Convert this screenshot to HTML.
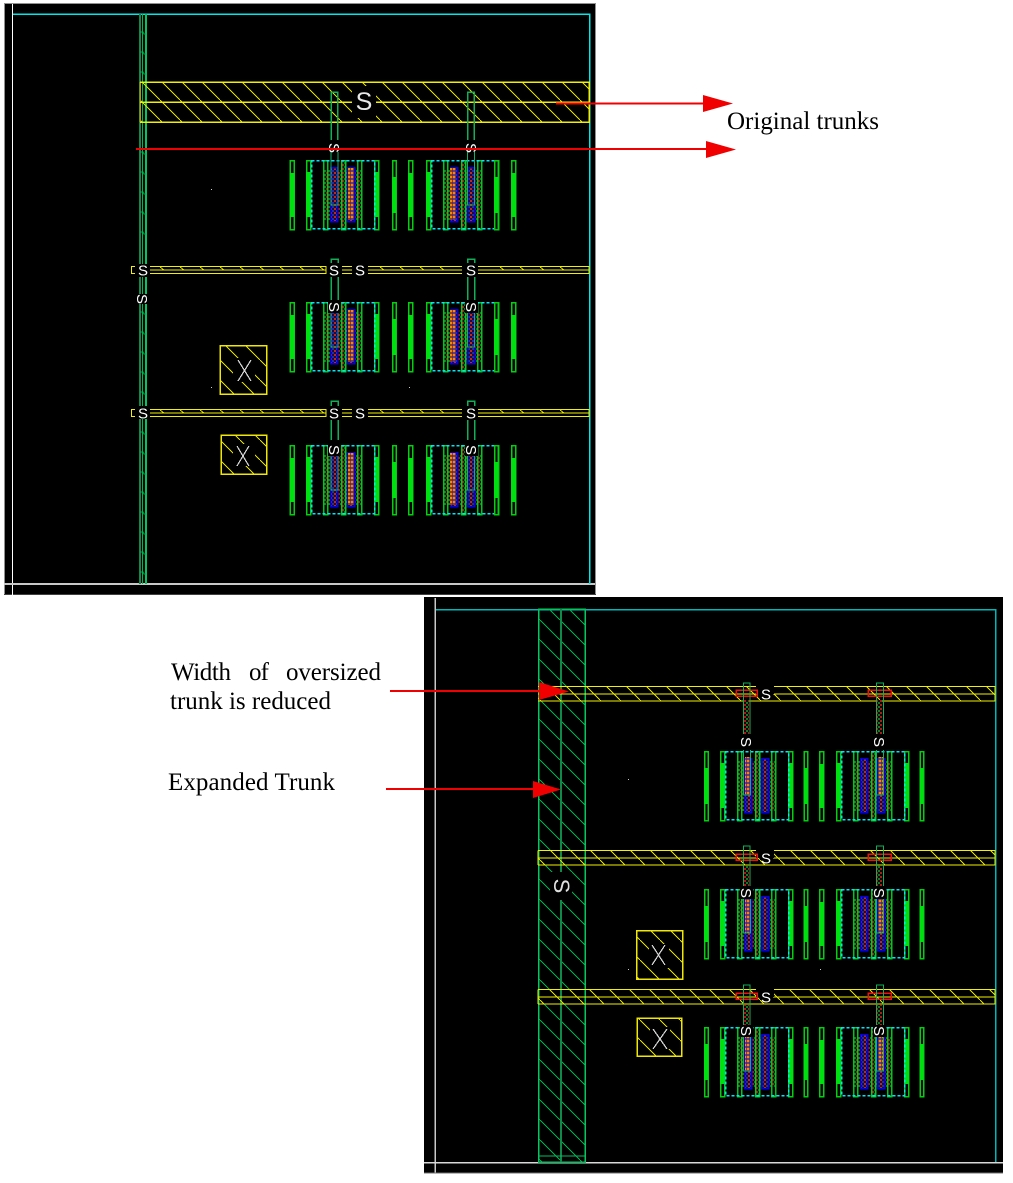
<!DOCTYPE html>
<html><head><meta charset="utf-8"><style>
html,body{margin:0;padding:0;background:#fff}
svg{display:block}
text{font-family:"Liberation Sans",sans-serif}
.t{font-family:"Liberation Serif",serif;font-size:25px;fill:#000}
.s{fill:#fff;font-size:15px;text-anchor:middle}
</style></head><body>
<svg width="1013" height="1183" viewBox="0 0 1013 1183" xmlns="http://www.w3.org/2000/svg" shape-rendering="crispEdges">
<defs>
<pattern id="hy" width="20" height="20" patternUnits="userSpaceOnUse"><path d="M-2 -2L22 22" stroke="#e0e000" stroke-width="1.200"/></pattern>
<pattern id="hx" width="20" height="20" patternUnits="userSpaceOnUse"><path d="M-2 -2L22 22" stroke="#e0e000" stroke-width="1.200"/></pattern>
<pattern id="hg" width="20" height="20" patternUnits="userSpaceOnUse"><path d="M-2 -2L22 22" stroke="#00b050" stroke-width="1.200"/></pattern>
<pattern id="dots" width="4" height="4" patternUnits="userSpaceOnUse"><rect width="4" height="4" fill="#100804"/><rect width="2" height="2" fill="#b01818"/><rect x="2" y="2" width="2" height="2" fill="#147a28"/></pattern>
<pattern id="dots2" width="4" height="4" patternUnits="userSpaceOnUse"><rect width="4" height="4" fill="#200838"/><rect width="2" height="2" fill="#c02818"/><rect x="2" y="2" width="2" height="2" fill="#1830a8"/></pattern>
<pattern id="or" width="3" height="4" patternUnits="userSpaceOnUse"><rect width="3" height="4" fill="#a03818"/><rect width="2" height="2" fill="#f08818"/><rect x="2" y="2" width="1" height="2" fill="#1838d0"/></pattern>
<g id="bar">
<rect x=".5" y=".5" width="4" height="69" fill="#000" stroke="#00d010" stroke-width="1.500"/>
<rect x="0" y="13" width="5" height="44" fill="#00e010"/>
</g>
<g id="nbar">
<rect x=".5" y=".5" width="3.500" height="69" fill="#000" stroke="#00d010" stroke-width="1.500"/>
<rect x="0" y="17" width="4" height="36" fill="#00e010"/>
</g>
<g id="cell">
<rect x=".5" y=".5" width="4" height="69" fill="#000" stroke="#00d010" stroke-width="1.500"/>
<rect x="0" y="12" width="5" height="45" fill="#00e010"/>
<rect x="68.500" y=".5" width="4" height="69" fill="#000" stroke="#00d010" stroke-width="1.500"/>
<rect x="68" y="12" width="5" height="45" fill="#00e010"/>
<rect x="18" y="10" width="38" height="50" fill="url(#dots)"/>
<rect x="24.500" y="7.500" width="7" height="54" fill="url(#dots2)" stroke="#0000f0" stroke-width="1.500"/>
<rect x="41.500" y="7.500" width="7" height="54" fill="url(#dots2)" stroke="#0000f0" stroke-width="1.500"/>
<rect x="17.500" y=".5" width="4" height="69" fill="none" stroke="#00c818" stroke-width="1.500"/>
<rect x="35.500" y=".5" width="4" height="69" fill="url(#dots)" stroke="#00d018" stroke-width="1.500"/>
<rect x="51.500" y=".5" width="4" height="69" fill="none" stroke="#00c818" stroke-width="1.500"/>
<rect x="5.500" y=".5" width="63" height="68" fill="none" stroke="#00e8f8" stroke-width="1.500" stroke-dasharray="3 2"/>
</g>
</defs>

<!-- TOP PANEL -->
<rect x="4" y="3" width="592" height="592" fill="#000"/>
<path d="M4.500 595V3.500H595.500V595" fill="none" stroke="#909090"/>
<path d="M4 594.500H596" stroke="#404040"/>
<path d="M12.500 4V595" stroke="#fff"/>
<path d="M4 584H595" stroke="#c8c8c8" stroke-width="2"/>
<path d="M13 14H589.500V584" fill="none" stroke="#00e8e8" stroke-width="1.500"/>

<!-- left vertical trunk -->
<path d="M140 14V584" stroke="#108a48" stroke-width="2"/>
<path d="M142.500 14V584" stroke="#00b850" stroke-width="1"/>
<path d="M146 14V584" stroke="#00c860" stroke-width="1.600"/>
<path d="M140 32h3l1 2h2M140 52h3l1 2h2M140 72h3l1 2h2M140 152h3l1 2h2M140 172h3l1 2h2M140 192h3l1 2h2M140 212h3l1 2h2M140 232h3l1 2h2M140 312h3l1 2h2M140 332h3l1 2h2M140 352h3l1 2h2M140 372h3l1 2h2M140 392h3l1 2h2M140 432h3l1 2h2M140 452h3l1 2h2M140 472h3l1 2h2M140 492h3l1 2h2M140 512h3l1 2h2M140 532h3l1 2h2M140 552h3l1 2h2M140 572h3l1 2h2" fill="none" stroke="#00b050"/>

<!-- wide yellow trunk -->
<rect x="140" y="82" width="449" height="40" fill="url(#hy)"/>
<path d="M140 82V122" stroke="#a8a000" stroke-width="1.500"/>
<path d="M140 82H589V122H140M140 102H352M375 102H589" fill="none" stroke="#f0f000" stroke-width="1.500"/>
<rect x="352" y="86" width="24" height="32" fill="#000"/>
<text x="364" y="110" style="font-size:25px;text-anchor:middle;fill:#e8e8e8">S</text>
<!-- stubs top row -->
<path d="M331 140V92H337.500V140M467.500 140V92H474V140" fill="none" stroke="#10b058" stroke-width="1.500"/>
<text class="s" transform="translate(329 148) rotate(90)">S</text><text class="s" transform="translate(466 148) rotate(90)">S</text>

<!-- thin yellow trunks -->
<g fill="none" stroke="#f0f000" stroke-width="1.300">
<path d="M135 266.500H131.500V273.500H135"/>
<path d="M150 266.500H326V273.500H150M150 270H326M342 266.500H352M342 273.500H352M342 270H352M368 266.500H462M368 273.500H462M368 270H462M478 266.500H589V273.500H478M478 270H589"/>
<path d="M135 409.500H131.500V416.500H135"/>
<path d="M150 409.500H326V416.500H150M150 413H326M342 409.500H352M342 416.500H352M342 413H352M368 409.500H462M368 416.500H462M368 413H462M478 409.500H589V416.500H478M478 413H589"/>
</g>
<path d="M160 267l4 3M180 267l4 3M200 267l4 3M220 267l4 3M240 267l4 3M260 267l4 3M280 267l4 3M300 267l4 3M320 267l4 3M380 267l4 3M400 267l4 3M420 267l4 3M440 267l4 3M500 267l4 3M520 267l4 3M540 267l4 3M560 267l4 3M160 410l4 3M180 410l4 3M200 410l4 3M220 410l4 3M240 410l4 3M260 410l4 3M280 410l4 3M300 410l4 3M320 410l4 3M380 410l4 3M400 410l4 3M420 410l4 3M440 410l4 3M500 410l4 3M520 410l4 3M540 410l4 3M560 410l4 3" stroke="#d8d800"/>

<!-- cells top -->
<g>
<use href="#bar" x="289.500" y="160"/><use href="#cell" x="306" y="160"/><use href="#nbar" x="392" y="160"/><use href="#bar" x="408" y="160"/><use href="#cell" x="426" y="160"/><use href="#nbar" x="494" y="160"/><use href="#bar" x="511" y="160"/>
<rect x="348" y="168" width="6" height="52" fill="url(#or)"/>
<rect x="450" y="168" width="6" height="52" fill="url(#or)"/>
<path d="M331 152V205H338V152M467.500 152V205H474.500V152" fill="none" stroke="#10b068" stroke-width="1.300"/>
</g>
<g transform="translate(0 142)">
<use href="#bar" x="289.500" y="160"/><use href="#cell" x="306" y="160"/><use href="#nbar" x="392" y="160"/><use href="#bar" x="408" y="160"/><use href="#cell" x="426" y="160"/><use href="#nbar" x="494" y="160"/><use href="#bar" x="511" y="160"/>
<rect x="348" y="168" width="6" height="52" fill="url(#or)"/>
<rect x="450" y="168" width="6" height="52" fill="url(#or)"/>
<path d="M331 160V205H338V160M467.500 160V205H474.500V160" fill="none" stroke="#10b068" stroke-width="1.300"/>
</g>
<g transform="translate(0 285)">
<use href="#bar" x="289.500" y="160"/><use href="#cell" x="306" y="160"/><use href="#nbar" x="392" y="160"/><use href="#bar" x="408" y="160"/><use href="#cell" x="426" y="160"/><use href="#nbar" x="494" y="160"/><use href="#bar" x="511" y="160"/>
<rect x="348" y="168" width="6" height="52" fill="url(#or)"/>
<rect x="450" y="168" width="6" height="52" fill="url(#or)"/>
<path d="M331 160V205H338V160M467.500 160V205H474.500V160" fill="none" stroke="#10b068" stroke-width="1.300"/>
</g>
<!-- stubs and S top mid/bottom -->
<g fill="none" stroke="#10b058" stroke-width="1.500">
<path d="M331 300V259H338V300M467.500 300V259H474.500V300M331 440V401H338V440M467.500 440V401H474.500V440"/>
</g>
<g fill="#000">
<rect x="137" y="264" width="12" height="13"/><rect x="328" y="263" width="13" height="14"/><rect x="353" y="263" width="14" height="14"/><rect x="464" y="263" width="13" height="14"/>
<rect x="137" y="406" width="12" height="13"/><rect x="328" y="406" width="13" height="14"/><rect x="353" y="406" width="14" height="14"/><rect x="464" y="406" width="13" height="14"/>
<rect x="136" y="294" width="13" height="10"/>
<rect x="328" y="302" width="13" height="11"/><rect x="465" y="302" width="13" height="11"/><rect x="328" y="445" width="13" height="11"/><rect x="465" y="445" width="13" height="11"/>
</g>
<g>
<text class="s" x="143" y="275.500">S</text><text class="s" x="334" y="275.500">S</text><text class="s" x="360" y="275.500">S</text><text class="s" x="471" y="275.500">S</text>
<text class="s" x="143" y="418.500">S</text><text class="s" x="334" y="418.500">S</text><text class="s" x="360" y="418.500">S</text><text class="s" x="471" y="418.500">S</text>
<text class="s" transform="translate(137 299) rotate(90)">S</text>
<text class="s" transform="translate(329 307) rotate(90)">S</text><text class="s" transform="translate(466 307) rotate(90)">S</text><text class="s" transform="translate(329 450) rotate(90)">S</text><text class="s" transform="translate(466 450) rotate(90)">S</text>
</g>

<!-- X boxes top -->
<rect x="220" y="345.500" width="46.500" height="48.500" fill="url(#hx)" stroke="#f0e800" stroke-width="1.500"/>
<rect x="221" y="435" width="45.500" height="39" fill="url(#hx)" stroke="#f0e800" stroke-width="1.500"/>
<rect x="233" y="358" width="22" height="24" fill="#000"/><rect x="233" y="444" width="22" height="22" fill="#000"/>
<path d="M238 360L251 381M251 360L238 381M237 446L249 466M249 446L237 466" stroke="#d8d8d8" stroke-width="1.200"/>
<rect x="211" y="189" width="1" height="1" fill="#ccc"/><rect x="211" y="387" width="1" height="1" fill="#ccc"/><rect x="409" y="387" width="1" height="1" fill="#ccc"/>

<!-- BOTTOM PANEL -->
<rect x="424" y="597" width="579" height="576" fill="#000"/>
<path d="M435 598V1173" stroke="#c8c8c8" stroke-width="1.500"/>
<path d="M424 1162.500H1003" stroke="#d8d8d8" stroke-width="1.500"/>
<path d="M424 1173H1003" stroke="#707070"/>
<path d="M436 609.500H995.500V1162" fill="none" stroke="#00b8b8" stroke-width="1.500"/>

<!-- wide green trunk -->
<rect x="538" y="609" width="47" height="553" fill="url(#hg)"/>
<rect x="538.500" y="609" width="46.500" height="553" fill="none" stroke="#00c860" stroke-width="1.500"/>
<path d="M561 609V1162" stroke="#108a48" stroke-width="2"/>
<path d="M538 1156H585" stroke="#00c060" stroke-width="1.200"/>
<rect x="550" y="872" width="22" height="28" fill="#000"/>
<text transform="translate(554 886) rotate(90)" style="font-size:22px;fill:#e0e0e0;text-anchor:middle">S</text>

<!-- yellow trunks bottom -->
<g fill="url(#hy)"><rect x="538" y="686" width="457" height="15"/><rect x="538" y="850" width="457" height="15"/><rect x="538" y="989" width="457" height="15"/></g>
<g fill="none" stroke="#f0f000" stroke-width="1.400">
<path d="M538 686.500H757M538 694H757M538 701H995V686.500H773M995 694H773"/>
<path d="M538 850.500H757M538 858H757M538 865H995V850.500H773M995 858H773M538 850.500V865"/>
<path d="M538 989.500H757M538 997H757M538 1004H995V989.500H773M995 997H773M538 989.500V1004"/>
</g>
<g fill="#000"><rect x="756" y="685" width="18" height="9"/><rect x="756" y="849" width="18" height="9"/><rect x="756" y="988" width="18" height="9"/></g>
<g fill="none" stroke="#f01010" stroke-width="1.500">
<rect x="736" y="690" width="21" height="6"/><rect x="868" y="690" width="23" height="6"/>
<rect x="736" y="854" width="21" height="6"/><rect x="868" y="854" width="23" height="6"/>
<rect x="736" y="993" width="21" height="6"/><rect x="868" y="993" width="23" height="6"/>
</g>
<g>
<rect x="744" y="700" width="5" height="34" fill="url(#dots)"/><rect x="877" y="700" width="5" height="34" fill="url(#dots)"/>
<rect x="744" y="866" width="5" height="20" fill="url(#dots)"/><rect x="877" y="866" width="5" height="20" fill="url(#dots)"/>
<rect x="744" y="1005" width="5" height="20" fill="url(#dots)"/><rect x="877" y="1005" width="5" height="20" fill="url(#dots)"/>
</g>
<g fill="none" stroke="#10b058" stroke-width="1.400">
<path d="M743.500 734V683H750V734M876.500 734V683H883.500V734"/>
<path d="M743.500 886V846H750V886M876.500 886V846H883.500V886"/>
<path d="M743.500 1025V985H750V1025M876.500 1025V985H883.500V1025"/>
</g>
<text class="s" x="766" y="699.500">S</text><text class="s" x="766" y="863.500">S</text><text class="s" x="766" y="1002.500">S</text>

<!-- bottom cells -->
<g transform="translate(0 591)">
<use href="#nbar" x="704" y="160"/><use href="#cell" x="720" y="160"/><use href="#nbar" x="803.500" y="160"/><use href="#bar" x="819" y="160"/><use href="#cell" x="836" y="160"/><use href="#nbar" x="919.500" y="160"/>
</g>
<g transform="translate(0 729)">
<use href="#nbar" x="704" y="160"/><use href="#cell" x="720" y="160"/><use href="#nbar" x="803.500" y="160"/><use href="#bar" x="819" y="160"/><use href="#cell" x="836" y="160"/><use href="#nbar" x="919.500" y="160"/>
</g>
<g transform="translate(0 867)">
<use href="#nbar" x="704" y="160"/><use href="#cell" x="720" y="160"/><use href="#nbar" x="803.500" y="160"/><use href="#bar" x="819" y="160"/><use href="#cell" x="836" y="160"/><use href="#nbar" x="919.500" y="160"/>
</g>
<g fill="url(#or)">
<rect x="745" y="757" width="5" height="38"/><rect x="878" y="757" width="5" height="38"/>
<rect x="745" y="895" width="5" height="38"/><rect x="878" y="895" width="5" height="38"/>
<rect x="745" y="1033" width="5" height="38"/><rect x="878" y="1033" width="5" height="38"/>
</g>
<g fill="none" stroke="#10b068" stroke-width="1.300">
<path d="M743.500 750V795H750.500V750M876.500 750V795H883.500V750"/>
<path d="M743.500 888V933H750.500V888M876.500 888V933H883.500V888"/>
<path d="M743.500 1026V1071H750.500V1026M876.500 1026V1071H883.500V1026"/>
</g>
<g fill="#000"><rect x="740" y="736" width="13" height="12"/><rect x="873" y="736" width="13" height="12"/><rect x="740" y="888" width="13" height="11"/><rect x="873" y="888" width="13" height="11"/><rect x="740" y="1026" width="13" height="11"/><rect x="873" y="1026" width="13" height="11"/></g>
<g>
<text class="s" transform="translate(741 742) rotate(90)">S</text><text class="s" transform="translate(874 742) rotate(90)">S</text>
<text class="s" transform="translate(741 893) rotate(90)">S</text><text class="s" transform="translate(874 893) rotate(90)">S</text>
<text class="s" transform="translate(741 1031) rotate(90)">S</text><text class="s" transform="translate(874 1031) rotate(90)">S</text>
</g>

<!-- X boxes bottom -->
<rect x="636.500" y="930.500" width="46" height="48.500" fill="url(#hx)" stroke="#f0e800" stroke-width="1.500"/>
<rect x="637" y="1018" width="44.500" height="38" fill="url(#hx)" stroke="#f0e800" stroke-width="1.500"/>
<rect x="649" y="944" width="20" height="24" fill="#000"/><rect x="650" y="1027" width="20" height="22" fill="#000"/>
<path d="M652 945L665 965M665 945L652 965M653 1029L667 1049M667 1029L653 1049" stroke="#d8d8d8" stroke-width="1.200"/>
<rect x="628" y="779" width="1" height="1" fill="#ccc"/><rect x="628" y="969" width="1" height="1" fill="#ccc"/><rect x="820" y="969" width="1" height="1" fill="#ccc"/>

<!-- ARROWS -->
<g stroke="#f00000" stroke-width="2" fill="#f00000" shape-rendering="geometricPrecision">
<path d="M556 103.500H704"/><path d="M703 95L733 103.500L703 112Z" stroke="none"/>
<path d="M136 149H708"/><path d="M706 141L736 149.500L706 158Z" stroke="none"/>
<path d="M390 691H540"/><path d="M539 682L569 691.500L539 700Z" stroke="none"/>
<path d="M386 789H534"/><path d="M533 781L561 789.500L533 798Z" stroke="none"/>
</g>

<!-- TEXT -->
<text class="t" x="727" y="129" textLength="152" lengthAdjust="spacing">Original trunks</text>
<text class="t" x="171" y="680" textLength="60" lengthAdjust="spacing">Width</text><text class="t" x="249" y="680" textLength="20" lengthAdjust="spacing">of</text><text class="t" x="286" y="680" textLength="95" lengthAdjust="spacing">oversized</text>
<text class="t" x="170" y="709" textLength="161" lengthAdjust="spacing">trunk is reduced</text>
<text class="t" x="168" y="790" textLength="167" lengthAdjust="spacing">Expanded Trunk</text>
</svg>
</body></html>
